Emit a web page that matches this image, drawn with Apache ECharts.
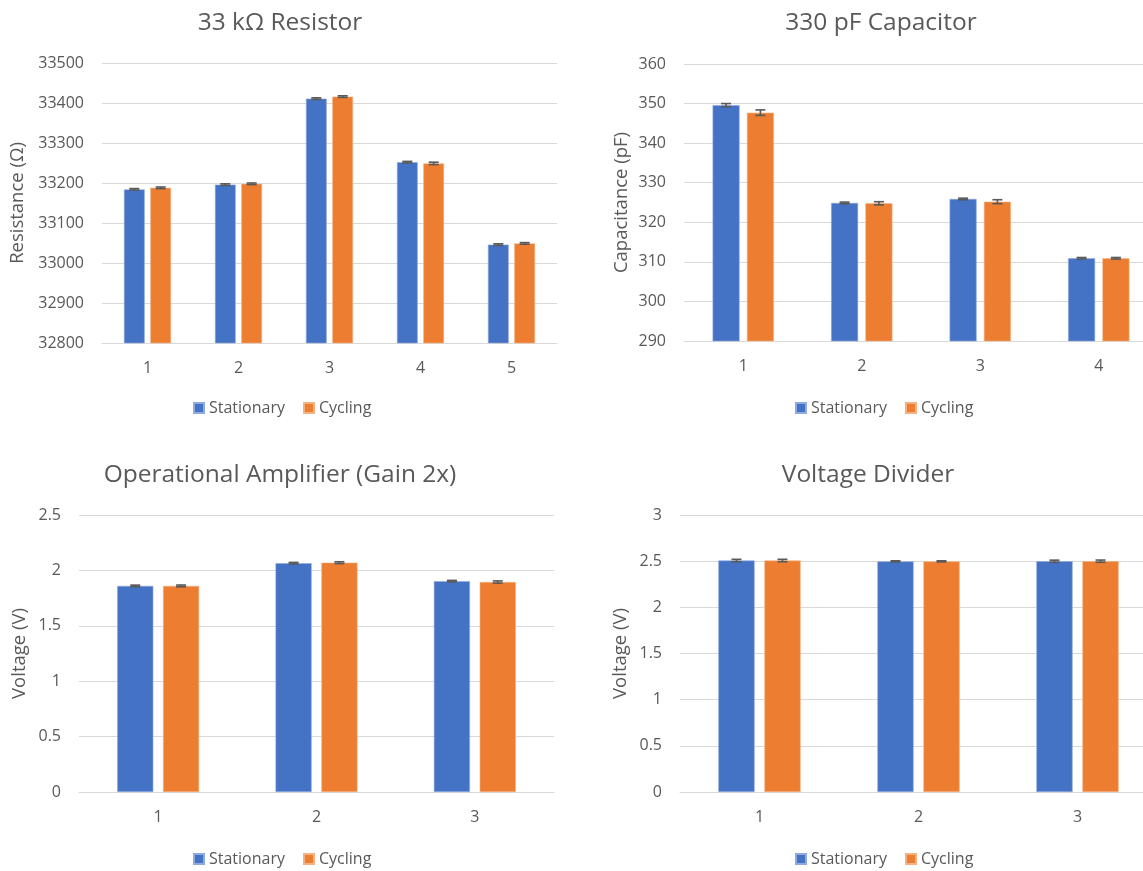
<!DOCTYPE html>
<html>
<head>
<meta charset="utf-8">
<title>Component measurements: stationary vs cycling</title>
<script src="https://cdn.jsdelivr.net/npm/echarts@6/dist/echarts.min.js"></script>
<style>
  html, body { margin: 0; padding: 0; background: #fff; overflow: hidden; }
  /* canvas runs a little past the right edge so the right-hand plots extend off-page */
  #chart { width: 1160px; height: 871px; }
</style>
</head>
<body>
<div id="chart"></div>
<script>
// ---- data ----
const seriesNames = ['Stationary', 'Cycling'];

const resistorCats = ['1', '2', '3', '4', '5'];
const resistorStationary = [33184, 33196, 33411, 33252, 33046];
const resistorCycling = [33188, 33198, 33416, 33249, 33049];
const resistorStationaryErr = [2, 2, 2, 2, 2];
const resistorCyclingErr = [2, 2, 2, 3, 2];

const capacitorCats = ['1', '2', '3', '4'];
const capacitorStationary = [349.6, 324.9, 325.9, 310.9];
const capacitorCycling = [347.7, 324.8, 325.2, 310.9];
const capacitorStationaryErr = [0.4, 0.2, 0.2, 0.2];
const capacitorCyclingErr = [0.7, 0.4, 0.5, 0.2];

const opampCats = ['1', '2', '3'];
const opampStationary = [1.86, 2.065, 1.903];
const opampCycling = [1.86, 2.07, 1.895];
const opampStationaryErr = [0.007, 0.007, 0.007];
const opampCyclingErr = [0.008, 0.008, 0.01];

const dividerCats = ['1', '2', '3'];
const dividerStationary = [2.507, 2.498, 2.499];
const dividerCycling = [2.507, 2.498, 2.5];
const dividerStationaryErr = [0.013, 0.006, 0.012];
const dividerCyclingErr = [0.013, 0.006, 0.012];

// ---- styling ----
const FONT = "'Open Sans', 'Noto Sans', sans-serif";
const TEXT = '#595959';
const GRID = '#D9D9D9';
const BLUE = '#4472C4';
const ORANGE = '#ED7D31';
const BAR_W = 0.228;   // fraction of category band
const BAR_GAP = 0.27;  // fraction of bar width

const panels = [
  { title: '33 kΩ Resistor', tx: 275, ty: 6, grid: { left: 102, top: 63, width: 455, height: 280 },
    cats: resistorCats, s: resistorStationary, c: resistorCycling, se: resistorStationaryErr, ce: resistorCyclingErr,
    min: 32800, max: 33500, interval: 100, yName: 'Resistance (Ω)', nameGap: 75, legend: { left: 193, top: 400 } },
  { title: '330 pF Capacitor', tx: 876, ty: 6, grid: { left: 684, top: 64, width: 474, height: 277 },
    cats: capacitorCats, s: capacitorStationary, c: capacitorCycling, se: capacitorStationaryErr, ce: capacitorCyclingErr,
    min: 290, max: 360, interval: 10, yName: 'Capacitance (pF)', nameGap: 53, legend: { left: 795, top: 400 } },
  { title: 'Operational Amplifier (Gain 2x)', tx: 275, ty: 458, grid: { left: 79, top: 515, width: 475, height: 277 },
    cats: opampCats, s: opampStationary, c: opampCycling, se: opampStationaryErr, ce: opampCyclingErr,
    min: 0, max: 2.5, interval: 0.5, yName: 'Voltage (V)', nameGap: 50, legend: { left: 193, top: 851 } },
  { title: 'Voltage Divider', tx: 863, ty: 458, grid: { left: 680, top: 515, width: 477, height: 277 },
    cats: dividerCats, s: dividerStationary, c: dividerCycling, se: dividerStationaryErr, ce: dividerCyclingErr,
    min: 0, max: 3, interval: 0.5, yName: 'Voltage (V)', nameGap: 50, legend: { left: 795, top: 851 } }
];

function errorBarSeries(idx, vals, errs, side) {
  return {
    type: 'custom',
    xAxisIndex: idx,
    yAxisIndex: idx,
    silent: true,
    z: 5,
    encode: { x: 0, y: 1 },
    data: vals.map((v, i) => [i, v, errs[i]]),
    renderItem: function (params, api) {
      const i = api.value(0), v = api.value(1), e = api.value(2);
      const band = api.size([1, 0])[0];
      const bw = band * BAR_W;
      const off = side * (bw + bw * BAR_GAP) / 2;
      const hi = api.coord([i, v + e]);
      const lo = api.coord([i, v - e]);
      const x = hi[0] + off;
      const cap = 5;
      const st = { stroke: '#595959', lineWidth: 1.6 };
      return {
        type: 'group',
        children: [
          { type: 'line', shape: { x1: x, y1: hi[1], x2: x, y2: lo[1] }, style: st },
          { type: 'line', shape: { x1: x - cap, y1: hi[1], x2: x + cap, y2: hi[1] }, style: st },
          { type: 'line', shape: { x1: x - cap, y1: lo[1], x2: x + cap, y2: lo[1] }, style: st }
        ]
      };
    }
  };
}

const option = {
  animation: false,
  backgroundColor: '#ffffff',
  textStyle: { fontFamily: FONT, color: TEXT },
  color: [BLUE, ORANGE],
  title: [], legend: [], grid: [], xAxis: [], yAxis: [], series: []
};

panels.forEach((p, idx) => {
  option.title.push({
    text: p.title, left: p.tx, top: p.ty, textAlign: 'center',
    textStyle: { fontFamily: FONT, fontSize: 24.5, fontWeight: 'normal', color: TEXT }
  });
  option.legend.push({
    data: seriesNames, left: p.legend.left, top: p.legend.top, padding: 0,
    itemWidth: 10, itemHeight: 10, itemGap: 18, icon: 'rect',
    textStyle: { fontFamily: FONT, fontSize: 16, color: TEXT }
  });
  option.grid.push(Object.assign({ containLabel: false }, p.grid));
  option.xAxis.push({
    type: 'category', gridIndex: idx, data: p.cats,
    axisLine: { show: true, lineStyle: { color: GRID, width: 1 } },
    axisTick: { show: false },
    axisLabel: { fontFamily: FONT, fontSize: 16, color: TEXT, margin: 17 }
  });
  option.yAxis.push({
    type: 'value', gridIndex: idx, min: p.min, max: p.max, interval: p.interval,
    name: p.yName, nameLocation: 'middle', nameGap: p.nameGap, nameRotate: 90,
    nameTextStyle: { fontFamily: FONT, fontSize: 18.5, color: TEXT },
    axisLine: { show: false }, axisTick: { show: false },
    axisLabel: { fontFamily: FONT, fontSize: 16, color: TEXT, margin: 18,
      formatter: function (v) { return String(+v.toFixed(4)); } },
    splitLine: { show: true, lineStyle: { color: GRID, width: 1 } }
  });
  const common = { type: 'bar', xAxisIndex: idx, yAxisIndex: idx, barWidth: (BAR_W * 100) + '%', barGap: (BAR_GAP * 100) + '%' };
  option.series.push(Object.assign({ name: seriesNames[0], data: p.s, itemStyle: { color: BLUE, borderColor: '#8FAADC', borderWidth: 0.6 } }, common));
  option.series.push(Object.assign({ name: seriesNames[1], data: p.c, itemStyle: { color: ORANGE, borderColor: '#F4B183', borderWidth: 0.6 } }, common));
  option.series.push(errorBarSeries(idx, p.s, p.se, -1));
  option.series.push(errorBarSeries(idx, p.c, p.ce, 1));
});

const chart = echarts.init(document.getElementById('chart'), null, { renderer: 'canvas' });
chart.setOption(option);
</script>
</body>
</html>
